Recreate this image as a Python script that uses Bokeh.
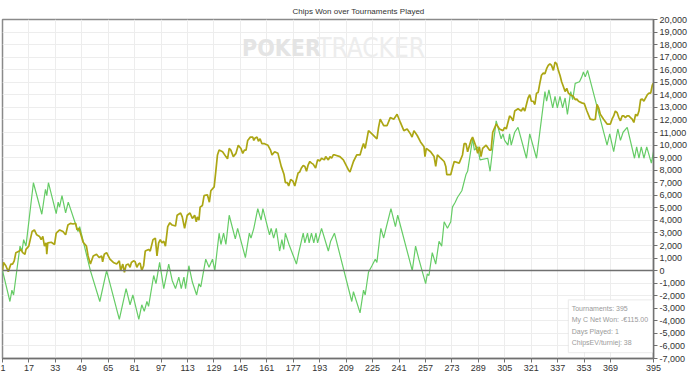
from bokeh.plotting import figure
from bokeh.models import (ColumnDataSource, FixedTicker, NumeralTickFormatter, Span,
                          Range1d, Label, BoxAnnotation)
from bokeh.embed import file_html
from bokeh.resources import INLINE

# ---------------- data ----------------
x_ticks = [1, 17, 33, 49, 65, 81, 97, 113, 129, 145, 161, 177, 193, 209, 225, 241,
           257, 273, 289, 305, 321, 337, 353, 369, 395]
y_ticks = list(range(-7000, 20001, 1000))

# Chips won (olive line)
won_t = [1, 1.6, 3, 4.5, 6.1, 7.1, 8.1, 9.1, 11.2, 12.2, 13.2, 14.6, 15.2, 16.9, 18.9, 20.3,
         21.7, 23.4, 24.4, 25.4, 26.4, 27.4, 27.8, 28.4, 30.5, 32.5, 33.5, 35.6, 37.6, 39.2,
         40.6, 42.1, 43.7, 45.3, 46.1, 47.3, 48.2, 49.8, 51.8, 52.8, 54.2, 55.9, 57.9, 59.5,
         61, 61.6, 62.6, 64, 66, 68.1, 70.1, 71.7, 72.5, 73.8, 74.8, 75.8, 77.2, 78.2, 79,
         80.3, 81.3, 82.3, 83.3, 84.3, 85.3, 86.4, 87.4, 89.4, 90.4, 92.1, 93.5, 94.5, 95.5,
         96.5, 97.5,
         98.6, 99.6, 101, 102.3, 103.7, 105.7, 106.7, 108.8, 109.8, 111.2, 112.8, 114.5, 115.9,
         117.3, 118.3, 118.9, 119.9, 120.6, 122, 123, 125, 126.2, 127.1, 129.1, 130.1, 131.1,
         132.1, 134.2, 136.2, 137.2, 138.2, 139.2, 140.7, 142.3, 143.7, 145.3, 146.4, 147.4,
         148.4, 149.4, 151, 152.5, 153.1, 153.9, 155.1, 155.9, 156.9, 158, 159.6, 161.6, 163.2,
         164.1, 165.7, 167.7, 169.7, 171.4, 172.2, 173.4, 174.2, 175.4, 176.8, 177.9, 178.9,
         179.9, 180.9, 181.9, 183, 184, 185, 186, 187, 188, 189, 190.5, 191.7, 193.1, 194.1,
         195.8, 196.6, 198.2, 199.2, 200.2, 201.2,
         202.2, 205.2, 207.3, 210.3, 211.3, 213.4, 215.4, 217.4, 218.5, 219.5, 220.5, 222.5,
         224.6, 227.6, 228.6, 229.6, 231.7, 233.7, 235.7, 237.8, 239.8, 241.8, 243.9, 245.9,
         247.9, 248.9, 250, 252, 254, 256.1, 256.7, 257.5, 260.1, 262.2, 263.2, 264.2, 266.2,
         268.3, 269.3, 269.9, 272.3, 273.3, 274.4, 277.4, 279.4, 280.4, 281.5, 282.5, 284.5,
         285.5, 287.6, 288.6, 289.6, 290.6, 291.6, 293.7, 295.7, 296.7, 297.7,
         299.8, 301.8, 303.9, 304.9, 305.9, 307.9, 308.9, 310, 311, 313, 315, 316, 317.1, 318.1,
         319.1, 320.1, 321.1, 322.2, 323.2, 324.2, 325.2, 326.2, 327.2, 328.3, 329.3, 330.3,
         331.3, 332.3, 333.3, 334.4, 335.4, 336.4, 337.4, 338.4, 339.4, 340.5, 341.5, 342.5,
         343.5, 344.5, 346.5, 347.6, 348.6, 349.6, 351.6, 353.1, 354.7, 356.7, 358.7, 359.8,
         360.8, 361.8, 362.8, 364.8, 366.9, 368.9, 369.9, 370.9, 371.9, 373, 374, 375, 376,
         377, 378, 379, 380.1, 381.1, 382.1, 383.1, 384.2, 385.2, 386.2, 387.2, 388.2, 389.2,
         390.2, 391.3, 392.3, 393.3, 394.3, 395]
won_v = [0, 650, 390, -80, 520, 520, 780, 1430, 1560, 1690, 1430, 1300, 1690, 1950, 3110, 3240,
         2850, 2720, 2470, 2720, 1950, 2210, 1300, 2210, 2260, 2080, 2980, 3240, 3110, 2850,
         3630, 3760, 3710, 3760, 3240, 3370, 2980, 2260, 1950, 1170, 520, 1170, 1300, 1040,
         1170, 700, 1300, 1430, 910, 650, 520, 780, 0, 520, -130, 440, 520, 260, 650,
         780, 700, 260, 520, 600, 0, 390, 1560, 1690, 1560, 2470, 2590, 1170, 2210,
         2470, 2210,
         2340, 1950, 3500, 3810, 3630, 3550, 4410, 4590, 4280, 3370, 4410, 4590, 4150,
         4410, 3890, 4280, 4020, 5060, 5190, 5970, 6040, 5450, 6360, 6670, 7910, 9210,
         9600, 9470, 9080, 8900, 9730, 9600, 9080, 9340, 9990, 9730, 9340, 9600,
         9600, 10370, 10630, 10630, 10370, 10560, 10630, 10300, 10500, 10110, 10110, 9990, 9600,
         9210, 9470, 9340, 8300, 7650, 7000, 7000, 6740, 7260, 7130, 6740, 7260,
         7780, 7860, 8170, 8380, 8300, 7910, 8430, 8690, 8560, 8480, 8170, 8820, 8740, 8950,
         8820, 9080, 8820, 9080, 8950, 9210,
         9210, 9080, 8820, 8040, 7860, 8690, 9210, 9210, 9730, 10120, 9730, 11150,
         10890, 10500, 11410, 12060, 11540, 11540, 12190, 12060, 12450, 11800, 11150, 11280,
         10890, 10630, 11150, 10760, 10250, 9860, 9080, 9730, 9470, 9080, 8300, 9210, 8950,
         8690, 8300, 7650, 7650, 8170, 8690, 8560, 9210, 10120, 10120, 9470, 10370,
         10630, 9860, 9340, 9860, 9080, 9730, 9990, 9600, 9600, 11020,
         11670, 11280, 11150, 11410, 11280, 12320, 12190, 11930, 12710, 12890, 12710, 12970, 12710, 13230,
         13750, 14010, 13490, 13490, 13230, 14130, 14190, 14910, 15560, 15740, 15690, 16080,
         16340, 16470, 16340, 15950, 16600, 16470, 15950, 15560, 15040, 14650, 14260, 14520,
         14130, 14010, 13880, 13620, 13670, 13490, 13360, 13300, 12710, 12060, 12010, 12060,
         13230, 12970, 12450, 12060, 11670, 11670, 12060, 12320, 12710, 12580, 12190, 11930, 12320,
         12320, 12190, 12320, 12320, 12190, 12060, 11800, 12450, 12320, 12710, 13620, 13670, 13490,
         13750, 14010, 14130, 14130, 14780, 14960]

# Chips EV (green line)
ev_t = [1, 5.5, 6.7, 7.7, 11.6, 12.8, 13.8, 15.2, 19.7, 24.8, 27, 27.8, 28.8, 33.5, 34.7, 35.5,
        37, 39.2, 40.8, 46.7, 47.7, 54.2, 59.9, 64, 71.7, 75.8, 78.2, 79.9, 83.5, 85.3, 86.8,
        88.4, 89.4, 92.5, 93.9, 96.1,
        98.6, 101.6, 103.7, 105.7, 107.7, 109.2, 110.8, 111.8, 113.8, 115.9, 118.5, 119.9, 121,
        124, 126, 128.1, 129.5, 132.1, 133.2, 134.8, 136.2, 138.2, 141.9, 143.3, 148, 150.4,
        151.4, 153.1, 155.5, 157.5, 158.6, 162.6, 163.6, 165.1, 166.7, 168.7, 170.1, 171.2,
        172.2, 174.4, 178.9, 180.3, 183, 184, 185.6, 186.6, 188, 189.4, 190.7, 191.7, 194.1,
        198.2, 199.6, 201.9,
        212.4, 213.4, 217.4, 219.5, 220.5, 222.5, 224.6, 226.6, 227.6, 230, 231.7, 233.1, 236.1,
        238.8, 240.2, 249, 251, 253, 257.1, 258.1, 259.1, 261.1, 263.2, 265.2, 266.8, 268.3,
        270.3, 272.3, 273.3, 275, 276.4, 279, 281.5, 282.5, 285.5, 286.6, 288.6, 290, 294.7,
        296.1, 297.7,
        299.8, 302.8, 303.9, 304.9, 306.9, 307.9, 308.9, 311, 313, 318.1, 320.1, 324.2, 329.3,
        330.3, 331.7, 334, 335.4, 336.8, 338.4, 340, 341.5, 342.9, 344.9, 346.1, 347.6, 350.2,
        351.6, 352.6, 353.7, 355.1, 366.9, 368.5, 370.9, 373.4, 375, 376.6, 379.1, 383.5, 384.8,
        386.2, 387.6, 389.2, 390.9, 393.7, 395]
ev_v = [0, -2460, -1550, -1940, 1950, 1560, 2470, 1950, 7000, 4490, 6480, 5970, 7000, 4540, 5450, 5060,
        5970, 4590, 5450, 3110, 3500, 0, -2460, 0, -3890, -1430, -2720, -1940, -3890, -2720, -3240,
        -2460, -2850, -390, -1040, 650,
        -1430, 520, -780, -1430, -520, -1430, -520, -1430, 390, -910, -1940, -1040, -1300,
        910, 260, 910, 0, 2980, 2080, 2980, 2080, 4410, 2520, 3370, 1040, 2980,
        2590, 3370, 4930, 4020, 4930, 2850, 3370, 2590, 3370, 1560, 2470, 1690,
        2980, 2080, 520, 1430, 2980, 2210, 2980, 2210, 2980, 2210, 2980, 2210, 3370,
        1560, 2340, 2980,
        -2460, -1680, -3370, -1550, -1940, -130, 390, 910, 650, 3370, 2600, 3370, 4930,
        3500, 4410, 0, 1950, 910, -1030, -260, -390, 1430, 520, 2340, 1950, 3890,
        3370, 3890, 5060, 5450, 5840, 6360, 7650, 7910, 10500, 9600, 9860, 8820, 8950,
        7910, 9730,
        11930, 10500, 10890, 10370, 9990, 10890, 9990, 11020, 11410, 8950, 10890, 8950, 14260,
        13490, 14390, 12970, 13880, 12970, 13880, 12970, 13750, 12450, 14260, 13620, 14910, 15040,
        15430, 15820, 15430, 15950, 9990, 10890, 9470, 11280, 10370, 11020, 11410, 8950, 9860,
        8950, 9860, 8950, 9860, 8560, 9470]

info_lines = ["Tournaments: 395", "My C Net Won: -€115.00", "Days Played: 1", "ChipsEV/turniej: 38"]

# ---------------- figure ----------------
FONT = "Liberation Sans"
p = figure(width=690, height=373, x_range=Range1d(1, 395), y_range=Range1d(-7000, 20000),
           y_axis_location="right", output_backend="svg", toolbar_location=None,
           title="Chips Won over Tournaments Played",
           min_border_left=2, min_border_top=0, min_border_bottom=0, min_border_right=0)
p.background_fill_color = "white"
p.border_fill_color = "white"
p.outline_line_color = "#8a8a8a"
p.outline_line_width = 1.5

p.title.align = "left"
p.title.offset = 290
p.title.text_font = FONT
p.title.text_font_size = "8px"
p.title.text_font_style = "normal"
p.title.text_color = "#333333"
p.title.standoff = 8

p.xaxis.ticker = FixedTicker(ticks=x_ticks)
p.yaxis.ticker = FixedTicker(ticks=y_ticks)
p.yaxis.formatter = NumeralTickFormatter(format="0,0")
for ax in (p.xaxis, p.yaxis):
    ax.major_label_text_font = FONT
    ax.major_label_text_font_size = "9px"
    ax.major_label_text_color = "#333333"
    ax.axis_line_color = "#707070"
    ax.axis_line_width = 1.5
    ax.major_tick_line_color = "#707070"
    ax.major_tick_in = 0
    ax.major_tick_out = 4
    ax.minor_tick_line_color = None
    ax.major_label_standoff = 2

p.xgrid.ticker = FixedTicker(ticks=x_ticks)
p.ygrid.ticker = FixedTicker(ticks=y_ticks)
p.xgrid.grid_line_color = "#ededed"
p.ygrid.grid_line_color = "#ededed"

# watermark
p.add_layout(Label(x=146, y=17700, text="POKER", text_font="DejaVu Sans Condensed",
                   text_font_style="bold", text_font_size="23px", text_color="#e4e4e4",
                   text_baseline="middle"))
p.add_layout(Label(x=191.5, y=17700, text="TRACKER", text_font="DejaVu Sans Condensed",
                   text_font_size="26px", text_color="#ededed", text_baseline="middle"))

p.add_layout(Span(location=0, dimension="width", line_color="#707070", line_width=1.5))

p.line(x="t", y="v", source=ColumnDataSource(dict(t=ev_t, v=ev_v)),
       line_color="#66cc66", line_width=1.2)
p.line(x="t", y="v", source=ColumnDataSource(dict(t=won_t, v=won_v)),
       line_color="#aca614", line_width=1.7)

# info box
p.add_layout(BoxAnnotation(left=343.5, right=394.5, top=-2330, bottom=-6530,
                           fill_color="white", fill_alpha=1.0,
                           line_color="#c8c8c8", line_width=1.2))
for txt, yv in zip(info_lines, [-3030, -3870, -4820, -5760]):
    p.add_layout(Label(x=345.5, y=yv, text=txt, text_font=FONT, text_font_size="7px",
                       text_color="#9a9a9a", text_baseline="middle"))

open("out.html", "w").write(file_html(p, INLINE))
